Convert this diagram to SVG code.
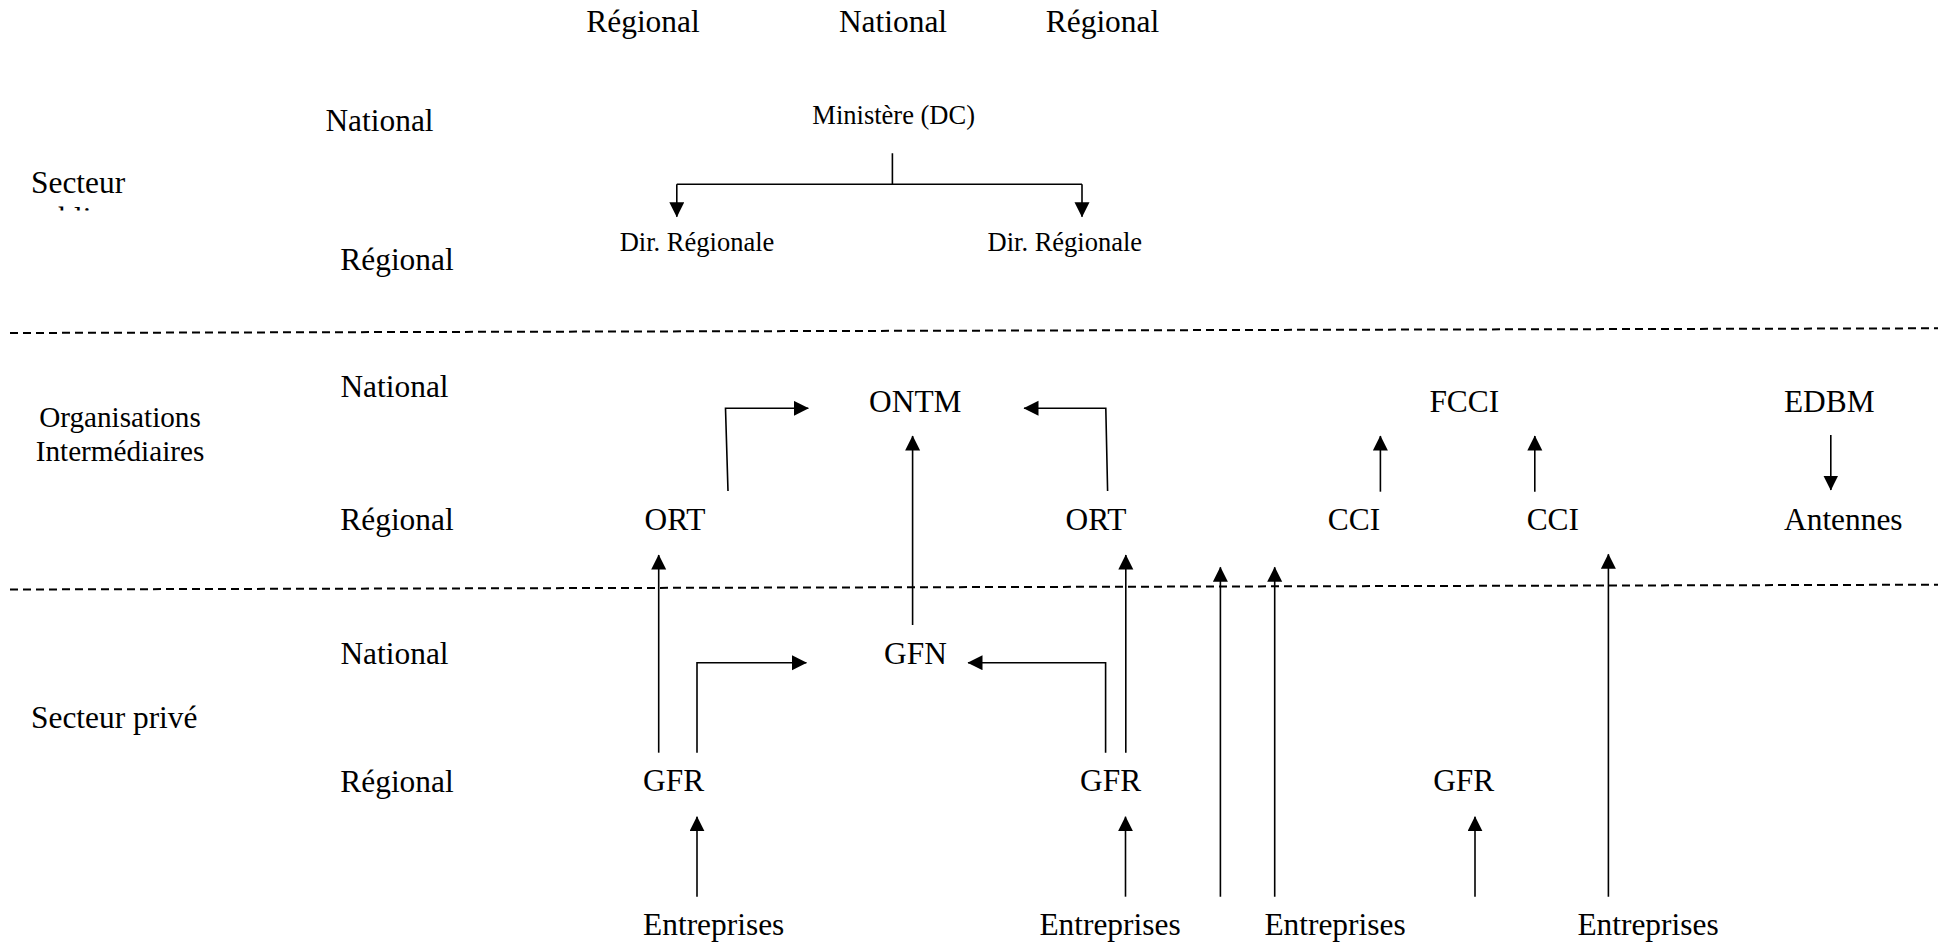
<svg xmlns="http://www.w3.org/2000/svg" width="1948" height="947" viewBox="0 0 1948 947">
<style>
text{font-family:"Liberation Serif","Times New Roman",serif;fill:#000;}
.t{font-size:31.4px;text-anchor:middle;}
.l{font-size:31.4px;}
.s{font-size:26.5px;text-anchor:middle;}
.o{font-size:29.2px;text-anchor:middle;}
.c{fill:none;stroke:#000;stroke-width:1.6;}
.d{fill:none;stroke:#000;stroke-width:2;stroke-dasharray:8 5;}
</style>
<defs>
<marker id="ah" markerUnits="userSpaceOnUse" markerWidth="16" markerHeight="16" refX="14.5" refY="7.5" orient="auto">
<path d="M0,0 L15,7.5 L0,15 z" fill="#000"/>
</marker>
<clipPath id="clipPub"><rect x="0" y="200" width="200" height="10.5"/></clipPath>
</defs>
<rect width="1948" height="947" fill="#fff"/>

<g id="separators">
<line class="d" x1="10" y1="333" x2="1938" y2="328.3"/>
<line class="d" x1="10" y1="589.5" x2="1938" y2="584.7"/>
</g>

<g id="labels">
<text class="t" x="643" y="32">Régional</text>
<text class="t" x="893" y="32">National</text>
<text class="t" x="1102.5" y="32">Régional</text>
<text class="t" x="379.5" y="131">National</text>
<text class="t" x="397" y="269.5">Régional</text>
<text class="t" x="394.5" y="397.3">National</text>
<text class="t" x="397" y="530">Régional</text>
<text class="t" x="394.5" y="664.3">National</text>
<text class="t" x="397" y="791.7">Régional</text>
<text class="l" x="31" y="192.7">Secteur</text>
<text class="l" x="27" y="229" clip-path="url(#clipPub)">public</text>
<text class="o" x="120" y="426.7">Organisations</text>
<text class="o" x="120" y="460.7">Intermédiaires</text>
<text class="l" x="31" y="728.3">Secteur privé</text>
</g>

<g id="ministere"><text class="s" x="893.7" y="124.3">Ministère (DC)</text></g>
<g id="dirreg1"><text class="s" x="697" y="251">Dir. Régionale</text></g>
<g id="dirreg2"><text class="s" x="1064.8" y="251">Dir. Régionale</text></g>
<g id="ontm"><text class="t" x="915.3" y="411.7">ONTM</text></g>
<g id="fcci"><text class="t" x="1464.3" y="411.7">FCCI</text></g>
<g id="edbm"><text class="t" x="1829.3" y="411.7">EDBM</text></g>
<g id="ort1"><text class="t" x="675" y="530">ORT</text></g>
<g id="ort2"><text class="t" x="1096" y="530">ORT</text></g>
<g id="cci1"><text class="t" x="1354" y="530">CCI</text></g>
<g id="cci2"><text class="t" x="1552.8" y="530">CCI</text></g>
<g id="antennes"><text class="t" x="1843.3" y="530">Antennes</text></g>
<g id="gfn"><text class="t" x="915.5" y="664.3">GFN</text></g>
<g id="gfr1"><text class="t" x="673.6" y="791">GFR</text></g>
<g id="gfr2"><text class="t" x="1110.6" y="791">GFR</text></g>
<g id="gfr3"><text class="t" x="1463.7" y="791">GFR</text></g>
<g id="ent1"><text class="t" x="713.7" y="935">Entreprises</text></g>
<g id="ent2"><text class="t" x="1110" y="935">Entreprises</text></g>
<g id="ent3"><text class="t" x="1335" y="935">Entreprises</text></g>
<g id="ent4"><text class="t" x="1648" y="935">Entreprises</text></g>

<g id="connectors">
<path class="c" d="M892.4,153.3 V184.3 M676.8,184.3 H1082"/>
<path class="c" d="M676.8,184.3 V216.7" marker-end="url(#ah)"/>
<path class="c" d="M1082,184.3 V216.7" marker-end="url(#ah)"/>
<path class="c" d="M728,491 L725.5,408.3 H808.3" marker-end="url(#ah)"/>
<path class="c" d="M1107.6,491 L1105.8,408.3 H1024" marker-end="url(#ah)"/>
<path class="c" d="M912.6,625 V436" marker-end="url(#ah)"/>
<path class="c" d="M658.7,752.7 V555" marker-end="url(#ah)"/>
<path class="c" d="M1125.8,752.7 V555" marker-end="url(#ah)"/>
<path class="c" d="M697,752.7 V662.7 H806.4" marker-end="url(#ah)"/>
<path class="c" d="M1105.6,752.7 V662.7 H968" marker-end="url(#ah)"/>
<path class="c" d="M697,896.7 V816.7" marker-end="url(#ah)"/>
<path class="c" d="M1125.5,896.7 V816.7" marker-end="url(#ah)"/>
<path class="c" d="M1475,896.7 V816.7" marker-end="url(#ah)"/>
<path class="c" d="M1220.4,896.7 V567.3" marker-end="url(#ah)"/>
<path class="c" d="M1274.7,896.7 V567.3" marker-end="url(#ah)"/>
<path class="c" d="M1608.4,896.7 V554.3" marker-end="url(#ah)"/>
<path class="c" d="M1380.4,491.7 V436" marker-end="url(#ah)"/>
<path class="c" d="M1534.8,491.7 V436" marker-end="url(#ah)"/>
<path class="c" d="M1830.8,435 V490" marker-end="url(#ah)"/>
</g>
</svg>
